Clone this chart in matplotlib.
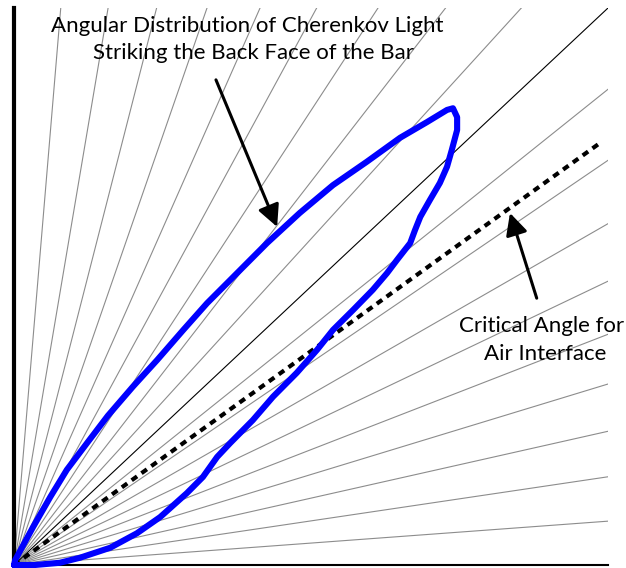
import numpy as np
import matplotlib
matplotlib.use("Agg")
import matplotlib.pyplot as plt

plt.rcParams['font.family'] = ['Lato', 'DejaVu Sans']

# radial reference lines (degrees from the bottom axis); 45 deg drawn in black
ray_angles = [4.5, 9.0, 13.5, 18.0, 22.5, 27.0, 31.5, 36.0, 40.5, 45.0,
              49.5, 54.0, 58.5, 63.0, 67.5, 72.0, 76.5, 81.0, 85.5]

# critical angle line end point (data units)
crit_x = [0.0, 0.987]
crit_y = [0.0, 0.758]

# angular distribution outline
dist_x = [0.000, 0.002, 0.032, 0.061, 0.089, 0.123, 0.158, 0.200, 0.241, 0.285,
          0.325, 0.369, 0.426, 0.481, 0.537, 0.594, 0.650, 0.695, 0.729, 0.739,
          0.746, 0.746, 0.737, 0.729, 0.717, 0.700, 0.684, 0.675, 0.667, 0.645,
          0.628, 0.604, 0.571, 0.537, 0.510, 0.476, 0.436, 0.402, 0.364, 0.342,
          0.318, 0.291, 0.246, 0.207, 0.162, 0.111, 0.077, 0.035, 0.000]
dist_y = [0.000, 0.009, 0.068, 0.122, 0.171, 0.219, 0.268, 0.320, 0.368, 0.422,
          0.470, 0.517, 0.578, 0.632, 0.682, 0.724, 0.767, 0.795, 0.817, 0.820,
          0.804, 0.781, 0.745, 0.715, 0.686, 0.655, 0.625, 0.601, 0.578, 0.548,
          0.524, 0.494, 0.458, 0.422, 0.386, 0.345, 0.302, 0.260, 0.219, 0.194,
          0.158, 0.129, 0.086, 0.057, 0.031, 0.013, 0.004, 0.000, 0.000]

W, H = 626, 568
fig = plt.figure(figsize=(W / 100, H / 100), dpi=100)
ax = fig.add_axes([14 / W, 3 / H, 594 / W, 557 / H])
ax.set_xlim(0, 1)
ax.set_ylim(0, 1)

for a in ray_angles:
    t = np.tan(np.radians(a))
    if a <= 45:
        ex, ey = 1.0, t
    else:
        ex, ey = 1.0 / t, 1.0
    if a == 45.0:
        ax.plot([0, ex], [0, ey], color='black', lw=0.8, zorder=2)
    else:
        ax.plot([0, ex], [0, ey], color='#8c8c8c', lw=0.8, zorder=1)

ax.plot(crit_x, crit_y, color='black', lw=3, dashes=(1.6, 1.3),
        solid_capstyle='butt', zorder=3)
ax.plot(dist_x, dist_y, color='#0000ff', lw=4.4, solid_joinstyle='round',
        solid_capstyle='round', zorder=4, clip_on=False)

for s in ['top', 'right']:
    ax.spines[s].set_visible(False)
ax.spines['left'].set_linewidth(3)
ax.spines['bottom'].set_linewidth(1.5)
ax.set_xticks([])
ax.set_yticks([])

txt = dict(fontsize=16, ha='center', va='center', color='black', zorder=6)
ax.text(0.392, 0.967, 'Angular Distribution of Cherenkov Light', **txt)
ax.text(0.404, 0.919, 'Striking the Back Face of the Bar', **txt)
ax.text(0.888, 0.429, 'Critical Angle for', **txt)
ax.text(0.894, 0.379, 'Air Interface', **txt)

arrow = dict(arrowstyle='-|>,head_length=0.6,head_width=0.3', lw=2.2,
             color='black', mutation_scale=22, shrinkA=0, shrinkB=0)
ax.annotate('', xy=(0.443, 0.607), xytext=(0.340, 0.871), arrowprops=arrow)
ax.annotate('', xy=(0.835, 0.632), xytext=(0.880, 0.479), arrowprops=arrow)

fig.savefig('out.png', dpi=100)
